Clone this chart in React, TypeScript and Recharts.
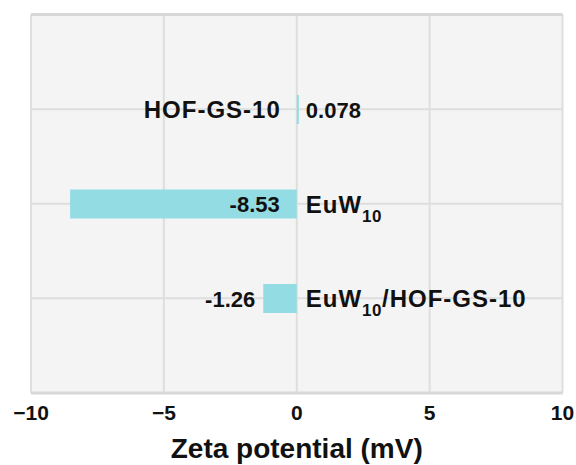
import React from 'react';
import { BarChart, Bar, XAxis, YAxis, CartesianGrid } from 'recharts';

// Zeta potential of each sample (mV); "_{..}" marks a subscript
const categories = ['HOF-GS-10', 'EuW_{10}', 'EuW_{10}/HOF-GS-10'];
const zetaValues = [0.078, -8.53, -1.26];
const xTicks = [-10, -5, 0, 5, 10];
const axisTitle = 'Zeta potential (mV)';

const data = categories.map((name, i) => ({ name, value: zetaValues[i] }));

const FONT = '"Liberation Sans", Arial, Helvetica, sans-serif';
const BAR_COLOR = '#93dce4';
const TEXT_COLOR = '#111111';
const NAME_SIZE = 24;
const SUB_SIZE = 17;
const SUB_SHIFT = 9;

function parseSegments(label: string) {
  const parts: { text: string; sub: boolean }[] = [];
  const re = /_\{([^}]*)\}/g;
  let last = 0;
  let m: RegExpExecArray | null;
  while ((m = re.exec(label)) !== null) {
    if (m.index > last) parts.push({ text: label.slice(last, m.index), sub: false });
    parts.push({ text: m[1], sub: true });
    last = m.index + m[0].length;
  }
  if (last < label.length) parts.push({ text: label.slice(last), sub: false });
  return parts;
}

function RichText({ x, y, anchor, label }: { x: number; y: number; anchor: string; label: string }) {
  const segs = parseSegments(label);
  return (
    <text
      x={x}
      y={y + NAME_SIZE * 0.36}
      textAnchor={anchor}
      fontFamily={FONT}
      fontWeight="bold"
      fontSize={NAME_SIZE}
      fill={TEXT_COLOR}
    >
      {segs.map((s, i) => {
        const prevSub = i > 0 && segs[i - 1].sub;
        const dy = s.sub ? SUB_SHIFT : prevSub ? -SUB_SHIFT : undefined;
        return (
          <tspan
            key={i}
            dy={dy}
            fontSize={s.sub ? SUB_SIZE : NAME_SIZE}
            letterSpacing={s.sub ? 0.5 : 1}
          >
            {s.text}
          </tspan>
        );
      })}
    </text>
  );
}

// Bar with its value label and its sample name drawn beside the zero line
function LabeledBar(props: any) {
  const { x, y, width, height, payload } = props;
  const v: number = payload.value;
  const left = Math.min(x, x + width);
  const right = Math.max(x, x + width);
  const zero = v >= 0 ? left : right;
  const cy = y + height / 2;
  let valueLabel;
  if (v >= 0) {
    valueLabel = { x: right + 7, anchor: 'start' };
  } else if (right - left > 100) {
    valueLabel = { x: right - 17, anchor: 'end' };
  } else {
    valueLabel = { x: left - 8, anchor: 'end' };
  }
  const nameLabel = v >= 0 ? { x: zero - 16, anchor: 'end' } : { x: zero + 9, anchor: 'start' };
  return (
    <g>
      <rect x={left} y={y} width={Math.max(right - left, 0)} height={height} fill={BAR_COLOR} />
      <text
        x={valueLabel.x}
        y={cy + 22 * 0.37}
        textAnchor={valueLabel.anchor}
        fontFamily={FONT}
        fontWeight="bold"
        fontSize={22}
        fill={TEXT_COLOR}
      >
        {String(v)}
      </text>
      <RichText x={nameLabel.x} y={cy} anchor={nameLabel.anchor} label={payload.name} />
    </g>
  );
}

const formatTick = (v: number) => (v < 0 ? `\u2212${Math.abs(v)}` : `${v}`);

// top and bottom edges of the plot frame
const frameRows = ({ offset }: any) => [offset.top, offset.top + offset.height];

export default function App() {
  return (
    <div style={{ position: 'absolute', left: 0, top: 0, width: 576, height: 465, background: '#ffffff' }}>
      <BarChart
        width={576}
        height={465}
        data={data}
        layout="vertical"
        margin={{ top: 14.5, right: 13.5, left: 31, bottom: 0 }}
      >
        <CartesianGrid fill="#f4f4f4" stroke="#dedede" strokeWidth={2} />
        <CartesianGrid
          vertical={false}
          horizontalCoordinatesGenerator={frameRows}
          stroke="#d8d8d8"
          strokeWidth={3}
        />
        <XAxis
          type="number"
          dataKey="value"
          domain={[-10, 10]}
          ticks={xTicks}
          tickFormatter={formatTick}
          axisLine={false}
          tickLine={false}
          tickSize={0}
          tickMargin={12}
          height={72}
          interval={0}
          tick={{ fontFamily: FONT, fontWeight: 'bold', fontSize: 21, fill: TEXT_COLOR }}
          label={{
            value: axisTitle,
            position: 'insideBottom',
            offset: 7,
            style: { fontFamily: FONT, fontWeight: 'bold', fontSize: 28, fill: TEXT_COLOR },
          }}
        />
        <YAxis type="category" dataKey="name" hide padding={{ top: 47.5, bottom: 47.5 }} />
        <Bar dataKey="value" barSize={29} isAnimationActive={false} shape={<LabeledBar />} />
      </BarChart>
    </div>
  );
}
